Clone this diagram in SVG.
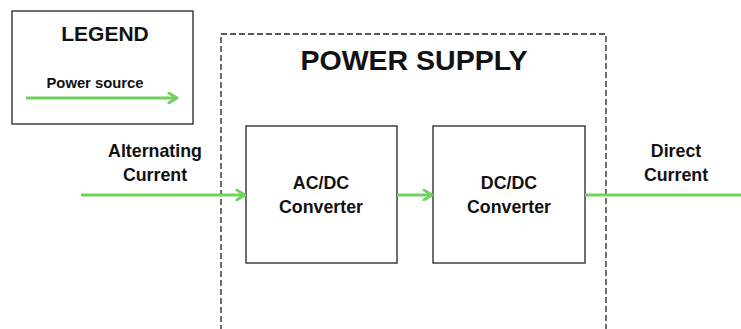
<svg xmlns="http://www.w3.org/2000/svg" width="741" height="329" viewBox="0 0 741 329">
  <style>
    .box { fill: #ffffff; stroke: #222222; stroke-width: 1.3; }
    .frame { fill: none; stroke: #222222; stroke-width: 1.3; stroke-dasharray: 6 3; }
    .t { font-family: "Liberation Sans", Arial, sans-serif; font-weight: bold; fill: #111111; text-anchor: middle; }
    .lbl { font-size: 17.8px; }
    .flow { stroke: #6fd35a; stroke-width: 3; fill: none; }
  </style>
  <defs>
    <marker id="chev" viewBox="0 0 10 10" refX="8.5" refY="5" markerWidth="4.2" markerHeight="4.2" markerUnits="strokeWidth" orient="auto">
      <path d="M2,1 L8.5,5 L2,9" fill="none" stroke="#6fd35a" stroke-width="2.2" stroke-linecap="round" stroke-linejoin="round"/>
    </marker>
  </defs>
  <rect width="741" height="329" fill="#ffffff"/>

  <!-- legend -->
  <g id="legend">
    <rect class="box" x="12" y="11" width="181" height="113"/>
    <text class="t" x="105" y="41" font-size="21">LEGEND</text>
    <text class="t" x="95" y="88" font-size="14.8">Power source</text>
    <line class="flow" x1="26" y1="98" x2="177" y2="98" marker-end="url(#chev)"/>
  </g>

  <!-- power supply enclosure -->
  <g id="power-supply">
    <path class="frame" d="M221,340 V34 H606 V340"/>
    <text class="t" x="414" y="70" font-size="28.5">POWER SUPPLY</text>
  </g>

  <g id="acdc">
    <rect class="box" x="246" y="126" width="151" height="137"/>
    <text class="t lbl" x="321" y="189">AC/DC</text>
    <text class="t lbl" x="321" y="213">Converter</text>
  </g>

  <g id="dcdc">
    <rect class="box" x="433" y="126" width="152" height="137"/>
    <text class="t lbl" x="509" y="189">DC/DC</text>
    <text class="t lbl" x="509" y="213">Converter</text>
  </g>

  <g id="ac-label">
    <text class="t lbl" x="155" y="157">Alternating</text>
    <text class="t lbl" x="155" y="181">Current</text>
  </g>

  <g id="dc-label">
    <text class="t lbl" x="676" y="157">Direct</text>
    <text class="t lbl" x="676" y="181">Current</text>
  </g>

  <!-- power flow -->
  <g id="connectors">
    <line class="flow" x1="81" y1="195" x2="245" y2="195" marker-end="url(#chev)"/>
    <line class="flow" x1="397" y1="195" x2="432" y2="195" marker-end="url(#chev)"/>
    <line class="flow" x1="585" y1="195" x2="741" y2="195"/>
  </g>
</svg>
